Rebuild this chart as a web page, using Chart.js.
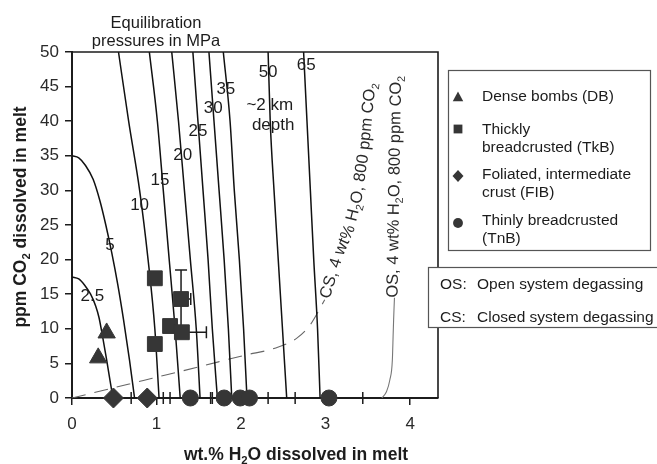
<!DOCTYPE html>
<html>
<head>
<meta charset="utf-8">
<script src="https://cdn.jsdelivr.net/npm/chart.js@4.4.1/dist/chart.umd.min.js"></script>
<style>
  html, body { margin: 0; padding: 0; background: #fff; }
  #wrap { width: 657px; height: 464px; }
</style>
</head>
<body>
<div id="wrap"><canvas id="chart" width="657" height="464"></canvas></div>
<script>
// ticks
const xTicks = [0, 1, 2, 3, 4];
const yTicks = [0, 5, 10, 15, 20, 25, 30, 35, 40, 45, 50];

// isobars (MPa): x read at these CO2 levels
const isobarY = [50, 40, 30, 20, 10, 0];
const isobar10 = [0.55, 0.67, 0.80, 0.90, 0.98, 1.03];
const isobar15 = [0.915, 1.01, 1.08, 1.15, 1.22, 1.28];
const isobar20 = [1.18, 1.26, 1.33, 1.40, 1.47, 1.515];
const isobar25 = [1.43, 1.49, 1.55, 1.61, 1.66, 1.72];
const isobar30 = [1.62, 1.68, 1.74, 1.80, 1.85, 1.89];
const isobar35 = [1.79, 1.87, 1.92, 1.98, 2.03, 2.07];
const isobar50 = [2.32, 2.345, 2.39, 2.44, 2.49, 2.54];
const isobar65 = [2.74, 2.78, 2.82, 2.86, 2.905, 2.935];

// low pressure isobars start on the CO2 axis
const isobar2_5X = [0, 0.08, 0.15, 0.22, 0.28, 0.32, 0.36, 0.41, 0.45, 0.485];
const isobar2_5Y = [17.5, 17.2, 16.3, 15.0, 13.3, 11.6, 9.0, 5.5, 2.5, 0];
const isobar5X = [0, 0.08, 0.16, 0.25, 0.33, 0.40, 0.47, 0.54, 0.61, 0.68, 0.74];
const isobar5Y = [35, 34.7, 33.6, 31.6, 28.5, 25, 21, 16.5, 11.3, 5.5, 0];

// degassing paths
const csX = [0, 0.4, 0.95, 1.5, 2.05, 2.4, 2.66, 2.82, 2.99];
const csY = [0, 1.2, 2.85, 4.5, 6.2, 7.2, 8.65, 10.6, 14.2];
const csTextX = [2.98, 3.13, 3.27, 3.36, 3.44, 3.49, 3.54, 3.58];
const csTextY = [14.5, 20.5, 24.5, 29, 35.5, 42, 47, 51];
const osX = [3.665, 3.72, 3.76, 3.79, 3.80, 3.805, 3.81, 3.815];
const osY = [0, 0.9, 2.6, 5.5, 9.4, 11.3, 13, 14.5];
const osTextX = [3.78, 3.83];
const osTextY = [14.5, 51];

// samples
const dbX = [0.41, 0.31];
const dbY = [9.4, 5.8];
const tkbX = [0.98, 1.29, 1.16, 1.30, 0.98];
const tkbY = [17.3, 14.3, 10.4, 9.5, 7.8];
const tkbYErr = [0, 4.2, 0, 0, 0];
const tkbXErrHi = [0, 0.115, 0, 0.29, 0];
const fibX = [0.49, 0.89];
const fibY = [0, 0];
const fibXErr = [0, 0.19];
const tnbX = [1.40, 1.80, 1.99, 2.10, 3.04];
const tnbY = [0, 0, 0, 0, 0];
const tnbXErr = [0.24, 0, 0.33, 0, 0.40];

// annotation text
const isobarLabelText = ['2.5', '5', '10', '15', '20', '25', '30', '35', '50', '65'];
const isobarLabelX = [0.24, 0.45, 0.80, 1.04, 1.31, 1.49, 1.67, 1.82, 2.32, 2.77];
const isobarLabelY = [14.9, 22.2, 28.0, 31.6, 35.2, 38.8, 42.0, 44.8, 47.2, 48.3];
const depthLabel = ['~2 km', 'depth'];
const headerLabel = ['Equilibration', 'pressures in MPa'];
const csLabel = 'CS, 4 wt% H_2O, 800 ppm CO_2';
const osLabel = 'OS, 4 wt% H_2O, 800 ppm CO_2';
const legendText = [['Dense bombs (DB)'], ['Thickly', 'breadcrusted (TkB)'], ['Foliated, intermediate', 'crust (FIB)'], ['Thinly breadcrusted', '(TnB)']];
const legendMarkers = ['triangle', 'rect', 'diamond', 'circle'];
const noteKeys = ['OS:', 'CS:'];
const noteText = ['Open system degassing', 'Closed system degassing'];
const xTitle = 'wt.% H_2O dissolved in melt';
const yTitle = 'ppm CO_2 dissolved in melt';

const fam = '"Liberation Sans", Arial, Helvetica, sans-serif';
const ink = '#1c1c1c';
const markGray = '#363636';

const pts = (xs, ys) => xs.map((x, i) => ({ x: x, y: ys[i] }));

// "_2" -> subscript 2
function splitRich(str) {
    let out = [];
    for (let i = 0; i < str.length; i++) {
        if (str[i] === '_') { out.push({ ch: str[i + 1], sub: true }); i++; }
        else out.push({ ch: str[i], sub: false });
    }
    return out;
}

function measureRich(ctx, ps, size, weight) {
    let w = 0;
    ps.forEach(p => {
        ctx.font = `${weight} ${p.sub ? size * 0.65 : size}px ${fam}`;
        p.w = ctx.measureText(p.ch).width;
        w += p.w;
    });
    return w;
}

// y is the baseline
function drawRich(ctx, str, x, y, size, weight, align) {
    let ps = splitRich(str);
    let w = measureRich(ctx, ps, size, weight);
    let cx = align === 'center' ? x - w / 2 : (align === 'right' ? x - w : x);
    ctx.textAlign = 'left';
    ctx.textBaseline = 'alphabetic';
    ps.forEach(p => {
        ctx.font = `${weight} ${p.sub ? size * 0.65 : size}px ${fam}`;
        ctx.fillText(p.ch, cx, y + (p.sub ? size * 0.22 : 0));
        cx += p.w;
    });
}

// text following a polyline (pixel points)
function drawOnPath(ctx, str, path, size, start) {
    let ps = splitRich(str);
    measureRich(ctx, ps, size, 'normal');
    let segs = [], total = 0;
    for (let i = 0; i < path.length - 1; i++) {
        let dx = path[i + 1].x - path[i].x, dy = path[i + 1].y - path[i].y;
        let len = Math.hypot(dx, dy);
        segs.push({ x: path[i].x, y: path[i].y, dx: dx, dy: dy, len: len, s: total });
        total += len;
    }
    let s = start;
    ctx.textAlign = 'center';
    ctx.textBaseline = 'alphabetic';
    ps.forEach(p => {
        let mid = s + p.w / 2;
        let seg = segs.find(g => mid <= g.s + g.len) || segs[segs.length - 1];
        let t = (mid - seg.s) / seg.len;
        ctx.save();
        ctx.translate(seg.x + seg.dx * t, seg.y + seg.dy * t);
        ctx.rotate(Math.atan2(seg.dy, seg.dx));
        ctx.font = `normal ${p.sub ? size * 0.65 : size}px ${fam}`;
        ctx.fillText(p.ch, 0, size * 0.36 + (p.sub ? size * 0.22 : 0));
        ctx.restore();
        s += p.w;
    });
}

function markerPath(ctx, kind, x, y, r) {
    ctx.beginPath();
    if (kind === 'triangle') {
        ctx.moveTo(x, y - r); ctx.lineTo(x + r * 0.95, y + r * 0.75); ctx.lineTo(x - r * 0.95, y + r * 0.75);
    } else if (kind === 'rect') {
        ctx.rect(x - r * 0.8, y - r * 0.8, r * 1.6, r * 1.6);
    } else if (kind === 'diamond') {
        ctx.moveTo(x, y - r * 1.1); ctx.lineTo(x + r, y); ctx.lineTo(x, y + r * 1.1); ctx.lineTo(x - r, y);
    } else {
        ctx.arc(x, y, r * 0.9, 0, Math.PI * 2);
    }
    ctx.closePath();
    ctx.fill();
}

const errorBars = {
    id: 'errorBars',
    beforeDatasetsDraw(chart) {
        const ctx = chart.ctx, xs = chart.scales.x, ys = chart.scales.y;
        ctx.save();
        ctx.strokeStyle = ink;
        ctx.lineWidth = 1.5;
        const cap = 6;
        function hbar(x0, x1, y) {
            let px0 = xs.getPixelForValue(x0), px1 = xs.getPixelForValue(x1), py = ys.getPixelForValue(y);
            ctx.beginPath();
            ctx.moveTo(px0, py); ctx.lineTo(px1, py);
            ctx.moveTo(px1, py - cap); ctx.lineTo(px1, py + cap);
            if (x0 !== x1) { ctx.moveTo(px0, py - cap); ctx.lineTo(px0, py + cap); }
            ctx.stroke();
        }
        tkbX.forEach((x, i) => {
            if (tkbYErr[i]) {
                let px = xs.getPixelForValue(x);
                let top = ys.getPixelForValue(tkbY[i] + tkbYErr[i]), bot = ys.getPixelForValue(tkbY[i] - tkbYErr[i]);
                ctx.beginPath();
                ctx.moveTo(px, top); ctx.lineTo(px, bot);
                ctx.moveTo(px - cap, top); ctx.lineTo(px + cap, top);
                ctx.stroke();
            }
            if (tkbXErrHi[i]) {
                let px0 = xs.getPixelForValue(x), px1 = xs.getPixelForValue(x + tkbXErrHi[i]), py = ys.getPixelForValue(tkbY[i]);
                ctx.beginPath();
                ctx.moveTo(px0, py); ctx.lineTo(px1, py);
                ctx.moveTo(px1, py - cap); ctx.lineTo(px1, py + cap);
                ctx.stroke();
            }
        });
        fibX.forEach((x, i) => { if (fibXErr[i]) hbar(x - fibXErr[i], x + fibXErr[i], fibY[i]); });
        tnbX.forEach((x, i) => { if (tnbXErr[i]) hbar(x - tnbXErr[i], x + tnbXErr[i], tnbY[i]); });
        ctx.restore();
    }
};

const annotations = {
    id: 'annotations',
    afterDraw(chart) {
        const ctx = chart.ctx, xs = chart.scales.x, ys = chart.scales.y, area = chart.chartArea;
        ctx.save();
        // plot frame (top and right)
        ctx.strokeStyle = ink;
        ctx.lineWidth = 1.6;
        ctx.beginPath();
        ctx.moveTo(area.left, area.top); ctx.lineTo(area.right, area.top); ctx.lineTo(area.right, area.bottom);
        ctx.stroke();

        ctx.fillStyle = ink;
        // isobar labels
        isobarLabelText.forEach((t, i) => {
            drawRich(ctx, t, xs.getPixelForValue(isobarLabelX[i]), ys.getPixelForValue(isobarLabelY[i]) + 6, 17, 'normal', 'center');
        });
        drawRich(ctx, depthLabel[0], xs.getPixelForValue(2.34), ys.getPixelForValue(42.5) + 6, 17, 'normal', 'center');
        drawRich(ctx, depthLabel[1], xs.getPixelForValue(2.38), ys.getPixelForValue(39.6) + 6, 17, 'normal', 'center');
        drawRich(ctx, headerLabel[0], 156, 28, 16.5, 'normal', 'center');
        drawRich(ctx, headerLabel[1], 156, 46, 16.5, 'normal', 'center');

        // curved labels on the degassing paths
        ctx.fillStyle = '#2a2a2a';
        drawOnPath(ctx, csLabel, csTextX.map((x, i) => ({ x: xs.getPixelForValue(x), y: ys.getPixelForValue(csTextY[i]) })), 16.5, 0);
        drawOnPath(ctx, osLabel, osTextX.map((x, i) => ({ x: xs.getPixelForValue(x), y: ys.getPixelForValue(osTextY[i]) })), 16.5, 0);

        // axis titles
        ctx.fillStyle = ink;
        drawRich(ctx, xTitle, 296, 460, 17.5, 'bold', 'center');
        ctx.save();
        ctx.translate(26, 217);
        ctx.rotate(-Math.PI / 2);
        drawRich(ctx, yTitle, 0, 0, 17.5, 'bold', 'center');
        ctx.restore();

        // legend box
        ctx.fillStyle = '#fff';
        ctx.strokeStyle = '#555';
        ctx.lineWidth = 1.2;
        ctx.fillRect(448, 70, 202, 180);
        ctx.strokeRect(448.5, 70.5, 202, 180);
        const entryY = [95, 128, 173, 219];
        const markY = [97, 129, 176, 223];
        legendText.forEach((lines, i) => {
            ctx.fillStyle = markGray;
            markerPath(ctx, legendMarkers[i], 458, markY[i], 5.5);
            ctx.fillStyle = ink;
            lines.forEach((ln, j) => drawRich(ctx, ln, 482, entryY[i] + j * 18 + 5.5, 15.5, 'normal', 'left'));
        });

        // open / closed system box
        ctx.fillStyle = '#fff';
        ctx.fillRect(428, 267, 229, 61);
        ctx.strokeRect(428.5, 267.5, 232, 60);
        ctx.fillStyle = ink;
        const noteY = [283, 316];
        noteKeys.forEach((k, i) => {
            drawRich(ctx, k, 440, noteY[i] + 5.5, 15.5, 'normal', 'left');
            drawRich(ctx, noteText[i], 477, noteY[i] + 5.5, 15.5, 'normal', 'left');
        });
        ctx.restore();
    }
};

function isobarDataset(label, xs) {
    return {
        label: label, data: pts(xs, isobarY), showLine: true,
        borderColor: '#111', borderWidth: 1.5, pointRadius: 0,
        cubicInterpolationMode: 'monotone', order: 3
    };
}

function markerDataset(label, xs, ys, style, radius) {
    return {
        label: label, data: pts(xs, ys), pointStyle: style, pointRadius: radius,
        backgroundColor: markGray, borderColor: markGray, borderWidth: 1,
        clip: false, order: 0
    };
}

const datasets = [
    markerDataset('DB', dbX, dbY, 'triangle', 10),
    markerDataset('TkB', tkbX, tkbY, 'rect', 10.5),
    markerDataset('FIB', fibX, fibY, 'rectRot', 10),
    markerDataset('TnB', tnbX, tnbY, 'circle', 8),
    { label: '2.5 MPa', data: pts(isobar2_5X, isobar2_5Y), showLine: true, borderColor: '#111', borderWidth: 1.5, pointRadius: 0, cubicInterpolationMode: 'monotone', order: 3 },
    { label: '5 MPa', data: pts(isobar5X, isobar5Y), showLine: true, borderColor: '#111', borderWidth: 1.5, pointRadius: 0, cubicInterpolationMode: 'monotone', order: 3 },
    isobarDataset('10 MPa', isobar10),
    isobarDataset('15 MPa', isobar15),
    isobarDataset('20 MPa', isobar20),
    isobarDataset('25 MPa', isobar25),
    isobarDataset('30 MPa', isobar30),
    isobarDataset('35 MPa', isobar35),
    isobarDataset('50 MPa', isobar50),
    isobarDataset('65 MPa', isobar65),
    { label: 'CS', data: pts(csX, csY), showLine: true, borderColor: '#666', borderWidth: 1.1, borderDash: [14, 9], pointRadius: 0, cubicInterpolationMode: 'monotone', order: 4 },
    { label: 'OS', data: pts(osX, osY), showLine: true, borderColor: '#777', borderWidth: 1.1, pointRadius: 0, cubicInterpolationMode: 'monotone', order: 4 }
];

Chart.defaults.font.family = fam;
Chart.defaults.color = ink;

new Chart(document.getElementById('chart'), {
    type: 'scatter',
    data: { datasets: datasets },
    plugins: [errorBars, annotations],
    options: {
        responsive: false,
        animation: false,
        events: [],
        layout: { padding: { left: 0, top: 52, right: 219, bottom: 0 } },
        plugins: { legend: { display: false }, tooltip: { enabled: false } },
        scales: {
            x: {
                type: 'linear', min: 0, max: 4.33,
                afterFit: s => { s.height = 66; },
                afterBuildTicks: s => { s.ticks = xTicks.map(v => ({ value: v })); },
                grid: { drawOnChartArea: false, drawTicks: true, tickLength: 7, color: ink, lineWidth: 1.5 },
                border: { display: true, color: ink, width: 2 },
                ticks: { font: { size: 17 }, color: '#2a2a2a', padding: 9 }
            },
            y: {
                type: 'linear', min: 0, max: 50,
                afterFit: s => { s.width = 72; },
                afterBuildTicks: s => { s.ticks = yTicks.map(v => ({ value: v })); },
                grid: { drawOnChartArea: false, drawTicks: true, tickLength: 7, color: ink, lineWidth: 1.5 },
                border: { display: true, color: ink, width: 2 },
                ticks: { font: { size: 17 }, color: '#2a2a2a', padding: 6 }
            }
        }
    }
});
</script>
</body>
</html>
